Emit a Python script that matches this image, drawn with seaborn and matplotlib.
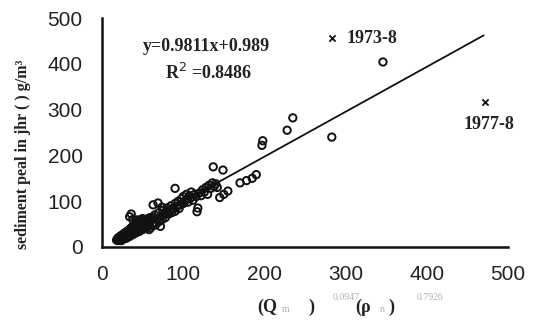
import numpy as np
import pandas as pd
import matplotlib.pyplot as plt
import seaborn as sns

sns.set_style('white')
plt.rcParams['font.family'] = ['Liberation Sans', 'DejaVu Sans']

# Data
x_obs = [18, 19, 20, 20, 21, 22, 22, 23, 24, 24, 25, 26, 26, 27, 28, 28, 29, 30, 30, 31,
         32, 32, 33, 34, 34, 35, 36, 36, 37, 38, 38, 39, 40, 40, 41, 42, 42, 43, 44, 44,
         45, 46, 46, 47, 48, 48, 49, 50, 50, 34, 36, 38, 43, 69, 74, 63,
         21, 23, 25, 27, 29, 31, 33, 35, 37, 39, 41, 43, 45, 47, 49, 51, 53, 55, 57, 59,
         26, 30, 34, 38, 42, 46, 50, 54, 58, 62,
         52, 54, 55, 56, 58, 60, 60, 62, 64, 65, 66, 68, 70, 70, 72, 74, 75, 76, 78, 80,
         80, 82, 84, 85, 86, 88, 90, 90, 92, 94, 95, 96, 98, 100, 100, 102, 104, 105, 106, 108,
         110, 110, 112, 114, 116, 117, 118, 120, 122, 124, 126, 128, 130, 132, 134, 136, 138, 140, 142,
         145, 150, 155, 137, 149, 170, 178, 185, 190, 197, 198, 228, 235, 283, 346, 90, 72, 58]
y_obs = [15, 18, 14, 20, 17, 22, 16, 19, 25, 14, 21, 18, 27, 23, 20, 30, 25, 22, 33, 28,
         24, 35, 30, 26, 38, 32, 28, 42, 35, 30, 45, 38, 33, 48, 40, 36, 52, 44, 38, 55,
         46, 40, 58, 50, 44, 60, 52, 46, 62, 66, 72, 60, 59, 96, 87, 92,
         20, 24, 26, 29, 31, 34, 36, 39, 41, 44, 46, 49, 51, 54, 56, 55, 58, 60, 62, 64,
         17, 19, 23, 27, 31, 34, 38, 42, 46, 50,
         48, 55, 44, 60, 50, 58, 42, 65, 52, 70, 48, 62, 55, 75, 66, 60, 80, 70, 64, 78,
         85, 72, 80, 90, 75, 84, 95, 78, 88, 100, 84, 92, 105, 95, 110, 100, 115, 105, 98, 112,
         108, 120, 102, 115, 110, 77, 85, 118, 112, 125, 120, 130, 115, 135, 128, 140, 132, 138, 130,
         108, 115, 122, 175, 168, 140, 145, 150, 158, 222, 232, 255, 282, 240, 404, 128, 45, 38]
x_flood = [283, 472]
y_flood = [456, 317]
flood_labels = ['1973-8', '1977-8']
slope, intercept, r2 = 0.9811, 0.989, 0.8486
x_fit = [20, 470]

obs = pd.DataFrame({'x': x_obs, 'y': y_obs})
fit = pd.DataFrame({'x': x_fit, 'y': [slope * v + intercept for v in x_fit]})
flood = pd.DataFrame({'x': x_flood, 'y': y_flood})

fig = plt.figure(figsize=(5.41, 3.22), dpi=100)
ax = fig.add_axes([0.1885, 0.233, 0.7505, 0.711])

sns.scatterplot(data=obs, x='x', y='y', ax=ax, marker='o', s=28,
                facecolors='none', edgecolor='#111111', linewidth=1.4, zorder=3)
sns.lineplot(data=fit, x='x', y='y', ax=ax, color='#111111', linewidth=1.3, zorder=2)
sns.scatterplot(data=flood, x='x', y='y', ax=ax, marker='x', s=20,
                color='#111111', linewidth=1.3, zorder=4)

ax.set_xlim(0, 500)
ax.set_ylim(0, 500)
ax.set_xticks([0, 100, 200, 300, 400, 500])
ax.set_yticks([0, 100, 200, 300, 400, 500])
ax.set_xlabel('')
ax.set_ylabel('')
for s in ['top', 'right']:
    ax.spines[s].set_visible(False)
for s in ['left', 'bottom']:
    ax.spines[s].set_color('#111111')
    ax.spines[s].set_linewidth(1.8)
ax.tick_params(axis='x', direction='in', length=5, width=1.5, color='#111111',
               labelsize=15, labelcolor='#222222', pad=13)
ax.tick_params(axis='y', direction='inout', length=6, width=1.5, color='#111111',
               labelsize=15, labelcolor='#222222', pad=11)

serif = ['Liberation Serif', 'DejaVu Serif']
ax.text(x_flood[0] + 18, y_flood[0], flood_labels[0], fontsize=13, family=serif,
        fontweight='bold', va='center', ha='left', color='#222222')
ax.text(x_flood[1] + 5, y_flood[1] - 50, flood_labels[1], fontsize=13, family=serif,
        fontweight='bold', va='center', ha='center', color='#222222', clip_on=False)
ax.text(129, 437, 'y=0.9811x+0.989', fontsize=13, family=serif, fontweight='bold',
        ha='center', va='center', color='#222222')
ax.text(132, 380, 'R$^2$ =%.4f' % r2, fontsize=13, family=serif, fontweight='bold',
        ha='center', va='center', color='#222222')

fig.text(0.043, 0.52, 'sediment peal in jhr ( ) g/m³', rotation=90, fontsize=11.5,
         family=serif, fontweight='bold', ha='center', va='center', color='#222222')

# x-axis label pieces: dark brackets, faint subscripts / exponents
dark, faint = '#222222', '#b0b0b0'
parts = [(0.476, 0.047, '(Q', dark, 13), (0.521, 0.038, 'm', faint, 7),
         (0.570, 0.047, ')', dark, 13), (0.615, 0.075, '0.0947', faint, 7),
         (0.657, 0.047, '(ρ', dark, 13), (0.702, 0.038, 'n', faint, 7),
         (0.717, 0.047, ')', dark, 13), (0.770, 0.075, '0.7926', faint, 7)]
for px, py, txt, col, fs in parts:
    fig.text(px, py, txt, color=col, fontsize=fs, family=serif, ha='left', va='center',
             fontweight='bold' if col == dark else 'normal')

fig.savefig('out.png', dpi=100)
